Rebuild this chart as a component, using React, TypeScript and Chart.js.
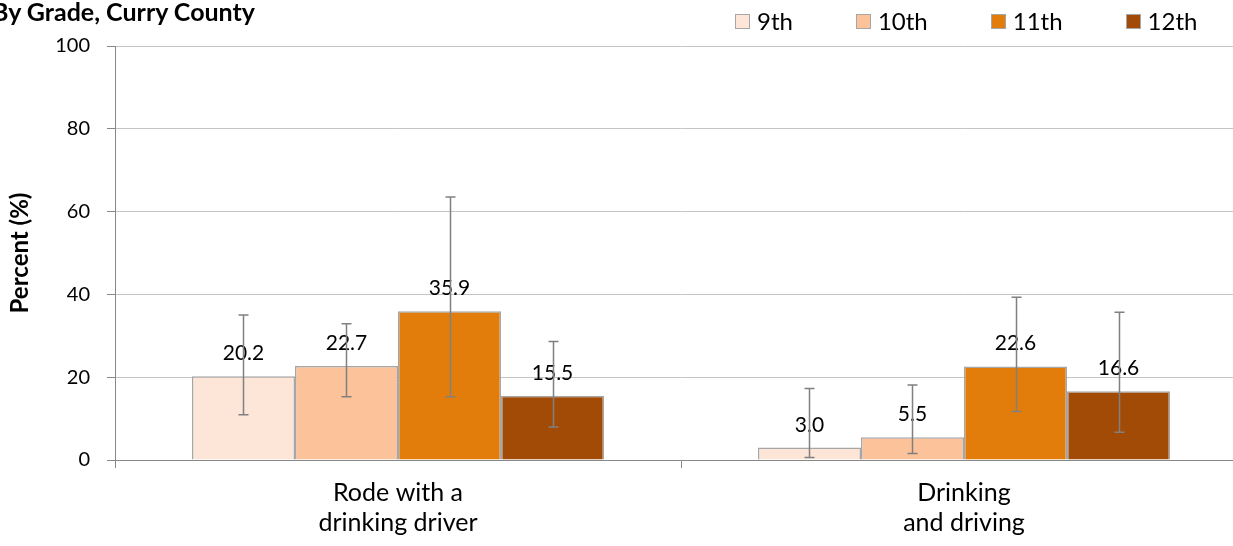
import React, { useEffect, useRef } from "react";
import { Chart, registerables } from "chart.js";

Chart.register(...registerables);

const titleText = "By Grade, Curry County";
const yAxisTitle = "Percent (%)";
const categories = [["Rode with a", "drinking driver"], ["Drinking", "and driving"]];
const grades = ["9th", "10th", "11th", "12th"];

const grade9 = [20.2, 3.0];
const grade10 = [22.7, 5.5];
const grade11 = [35.9, 22.6];
const grade12 = [15.5, 16.6];

const lower9 = [10.9, 0.6];
const upper9 = [35.0, 17.3];
const lower10 = [15.3, 1.6];
const upper10 = [32.9, 18.1];
const lower11 = [15.3, 11.7];
const upper11 = [63.5, 39.3];
const lower12 = [8.0, 6.7];
const upper12 = [28.6, 35.7];

const yMin = 0;
const yMax = 100;
const yStep = 20;

const colors = ["#FDE6D8", "#FCC29A", "#E27C0B", "#A24B07"];

const FONT = "Lato, 'Open Sans', sans-serif";

const seriesValues = [grade9, grade10, grade11, grade12];
const seriesLower = [lower9, lower10, lower11, lower12];
const seriesUpper = [upper9, upper10, upper11, upper12];

const labelsAndErrors = {
  id: "labelsAndErrors",
  afterDatasetsDraw(chart: any) {
    const ctx = chart.ctx;
    const yScale = chart.scales.y;
    ctx.save();
    ctx.font = `21px ${FONT}`;
    ctx.fillStyle = "#000";
    ctx.textAlign = "center";
    ctx.textBaseline = "alphabetic";
    chart.data.datasets.forEach((ds: any, i: number) => {
      const meta = chart.getDatasetMeta(i);
      meta.data.forEach((el: any, j: number) => {
        const v = ds.data[j];
        ctx.fillText(v.toFixed(1), el.x, el.y - 16);
      });
    });
    ctx.strokeStyle = "#808080";
    ctx.lineWidth = 1.5;
    chart.data.datasets.forEach((ds: any, i: number) => {
      const meta = chart.getDatasetMeta(i);
      meta.data.forEach((el: any, j: number) => {
        const yt = yScale.getPixelForValue(seriesUpper[i][j]);
        const yb = yScale.getPixelForValue(seriesLower[i][j]);
        const x = Math.round(el.x) + 0.5;
        ctx.beginPath();
        ctx.moveTo(x, yt);
        ctx.lineTo(x, yb);
        ctx.moveTo(x - 5, yt);
        ctx.lineTo(x + 5, yt);
        ctx.moveTo(x - 5, yb);
        ctx.lineTo(x + 5, yb);
        ctx.stroke();
      });
    });
    ctx.restore();
  },
};

export default function App() {
  const canvasRef = useRef<HTMLCanvasElement | null>(null);

  useEffect(() => {
    if (!canvasRef.current) return;
    const chart = new Chart(canvasRef.current, {
      type: "bar",
      data: {
        labels: categories as any,
        datasets: grades.map((g, i) => ({
          label: g,
          data: seriesValues[i],
          backgroundColor: colors[i],
          borderColor: "#A6A6A6",
          borderWidth: 1.5,
          categoryPercentage: 0.728,
          barPercentage: 1.0,
        })),
      },
      options: {
        responsive: false,
        animation: false,
        layout: { padding: { top: 46, right: 23, left: 0, bottom: 0 } },
        plugins: {
          legend: { display: false },
          tooltip: { enabled: false },
          title: { display: false },
        },
        scales: {
          x: {
            offset: true,
            grid: {
              display: true,
              drawOnChartArea: false,
              offset: true,
              tickLength: 8,
              tickColor: "#888888",
            },
            border: { color: "#888888", width: 1 },
            ticks: {
              font: { family: FONT, size: 25, lineHeight: 1.2 },
              color: "#000",
              padding: 10,
              maxRotation: 0,
              autoSkip: false,
            },
            afterFit: (s: any) => {
              s.height = 86;
            },
          },
          y: {
            min: yMin,
            max: yMax,
            ticks: {
              stepSize: yStep,
              font: { family: FONT, size: 20 },
              color: "#000",
              padding: 17,
            },
            grid: {
              color: "#C4C4C4",
              tickLength: 8,
              tickColor: "#888888",
            },
            border: { color: "#888888", width: 1 },
            title: {
              display: true,
              text: yAxisTitle,
              font: { family: FONT, size: 24, weight: "bold" },
              color: "#000",
              padding: { top: 6, bottom: 0 },
            },
            afterFit: (s: any) => {
              s.width = 115;
            },
          },
        },
      },
      plugins: [labelsAndErrors],
    });
    return () => chart.destroy();
  }, []);

  return (
    <div
      style={{
        position: "fixed",
        left: 0,
        top: 0,
        width: 1233,
        height: 546,
        overflow: "hidden",
        background: "#fff",
        fontFamily: FONT,
      }}
    >
      <canvas
        ref={canvasRef}
        width={1270}
        height={546}
        style={{ position: "absolute", left: 0, top: 0, width: 1270, height: 546 }}
      />
      <div
        style={{
          position: "absolute",
          left: -8,
          top: -1,
          fontSize: 25,
          fontWeight: "bold",
          lineHeight: "25px",
          color: "#000",
          whiteSpace: "nowrap",
        }}
      >
        {titleText}
      </div>
      <div
        style={{
          position: "absolute",
          left: 735,
          top: 10,
          display: "flex",
          alignItems: "center",
          gap: 63,
          fontSize: 24,
          lineHeight: "22px",
          color: "#000",
          whiteSpace: "nowrap",
        }}
      >
        {grades.map((g, i) => (
          <div key={g} style={{ display: "flex", alignItems: "center", gap: 7 }}>
            <span
              style={{
                display: "inline-block",
                width: 13,
                height: 13,
                background: colors[i],
                border: "1px solid #A6A6A6",
              }}
            />
            <span>{g}</span>
          </div>
        ))}
      </div>
    </div>
  );
}
